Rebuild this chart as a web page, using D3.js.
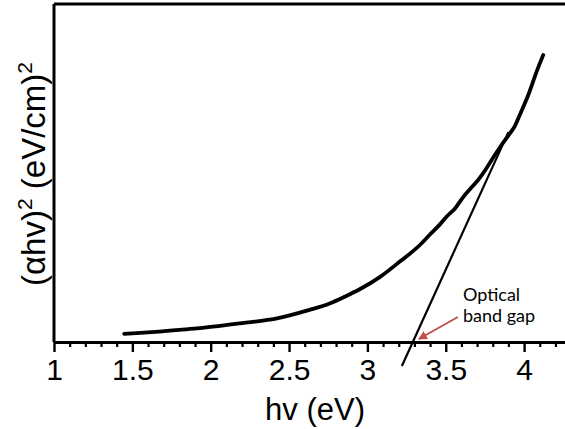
<!DOCTYPE html>
<html>
<head>
<meta charset="utf-8">
<script src="https://cdn.jsdelivr.net/npm/d3@7"></script>
<style>
  html, body { margin: 0; padding: 0; background: #fff; }
  svg { display: block; }
</style>
</head>
<body>
<svg id="chart" width="565" height="429"></svg>
<script>
// Tauc plot: (αhν)² against photon energy, with the linear fit that gives the optical band gap.
const energy = [1.448, 1.55, 1.672, 1.80, 1.928, 2.06, 2.184, 2.28, 2.376, 2.504, 2.631, 2.759, 2.855,
                2.951, 3.079, 3.207, 3.335, 3.399, 3.463, 3.508, 3.559, 3.610, 3.674, 3.706, 3.764,
                3.802, 3.847, 3.898, 3.94, 3.98, 4.026, 4.084, 4.122];
const absorption = [0.24, 0.27, 0.31, 0.36, 0.41, 0.48, 0.55, 0.60, 0.66, 0.79, 0.95, 1.14, 1.34,
                    1.56, 1.92, 2.38, 2.87, 3.18, 3.48, 3.72, 3.95, 4.28, 4.62, 4.79, 5.17,
                    5.45, 5.77, 6.10, 6.38, 6.80, 7.30, 8.05, 8.49];

// Straight-line extrapolation of the absorption edge
const fitEnergy = [3.22, 3.90];
const fitAbsorption = [-0.71, 6.21];
const bandGap = 3.29;

const majorTicks = [1, 1.5, 2, 2.5, 3, 3.5, 4];
const tickLabels = ["1", "1.5", "2", "2.5", "3", "3.5", "4"];
const minorTicks = [1.1, 1.2, 1.3, 1.4, 1.6, 1.7, 1.8, 1.9, 2.1, 2.2, 2.3, 2.4, 2.6, 2.7, 2.8, 2.9,
                    3.1, 3.2, 3.3, 3.4, 3.6, 3.7, 3.8, 3.9, 4.1, 4.2];
const noteLines = ["Optical", "band gap"];

const svg = d3.select("#chart");
const plotLeft = 54, plotRight = 565, plotTop = 4, plotBottom = 342;

const x = d3.scaleLinear().domain([1, 1 + (plotRight - plotLeft) / 156.7]).range([plotLeft, plotRight]);
const y = d3.scaleLinear().domain([0, 10]).range([plotBottom, plotTop]);

const axisFont = "'Liberation Sans', Arial, sans-serif";

// Frame: top and left edges
svg.append("line").attr("x1", plotLeft).attr("x2", plotRight).attr("y1", plotTop).attr("y2", plotTop)
  .attr("stroke", "#000").attr("stroke-width", 3);
svg.append("line").attr("x1", plotLeft).attr("x2", plotLeft).attr("y1", plotTop).attr("y2", plotBottom)
  .attr("stroke", "#000").attr("stroke-width", 3);

// Minor ticks
const minorAxis = d3.axisBottom(x).tickValues(minorTicks).tickSize(5).tickFormat("");
svg.append("g").attr("transform", `translate(0,${plotBottom})`).call(minorAxis)
  .call(g => g.select(".domain").remove())
  .call(g => g.selectAll(".tick line").attr("stroke", "#000").attr("stroke-width", 2.2));

// Major ticks with labels
const majorAxis = d3.axisBottom(x).tickValues(majorTicks).tickSizeInner(10).tickSizeOuter(0)
  .tickPadding(7).tickFormat((d, i) => tickLabels[i]);
const gx = svg.append("g").attr("transform", `translate(0,${plotBottom})`).call(majorAxis);
gx.select(".domain").attr("stroke", "#000").attr("stroke-width", 3);
gx.selectAll(".tick line").attr("stroke", "#000").attr("stroke-width", 2.4);
gx.selectAll(".tick text").attr("font-family", axisFont).attr("font-size", 30).attr("fill", "#000");

// Axis titles
svg.append("text")
  .attr("x", 315).attr("y", 420)
  .attr("text-anchor", "middle")
  .attr("font-family", axisFont).attr("font-size", 31).attr("fill", "#000")
  .text("hv (eV)");

const yt = svg.append("text")
  .attr("transform", "translate(45,174) rotate(-90)")
  .attr("text-anchor", "middle")
  .attr("font-family", axisFont).attr("font-size", 33).attr("fill", "#000");
yt.append("tspan").text("(αhv)");
yt.append("tspan").attr("dy", -13).attr("font-size", 21).text("2");
yt.append("tspan").attr("dy", 13).text(" (eV/cm)");
yt.append("tspan").attr("dy", -13).attr("font-size", 21).text("2");

// Data curve
const line = d3.line().x((d, i) => x(energy[i])).y((d, i) => y(absorption[i])).curve(d3.curveMonotoneX);
svg.append("path").datum(absorption).attr("d", line)
  .attr("fill", "none").attr("stroke", "#000").attr("stroke-width", 3.8)
  .attr("stroke-linejoin", "round").attr("stroke-linecap", "round");

// Linear fit
svg.append("line")
  .attr("x1", x(fitEnergy[0])).attr("y1", y(fitAbsorption[0]))
  .attr("x2", x(fitEnergy[1])).attr("y2", y(fitAbsorption[1]))
  .attr("stroke", "#000").attr("stroke-width", 2.2);

// Band-gap annotation
const arrowColor = "#c0504d";
svg.append("defs").append("marker")
  .attr("id", "head").attr("viewBox", "0 0 10 10").attr("refX", 9).attr("refY", 5)
  .attr("markerWidth", 4.5).attr("markerHeight", 4.5).attr("markerUnits", "strokeWidth")
  .attr("orient", "auto")
  .append("path").attr("d", "M0,0 L10,5 L0,10 Z").attr("fill", arrowColor);

const tipX = x(bandGap) + 6, tipY = y(0) - 3;
svg.append("line")
  .attr("x1", tipX + 39).attr("y1", tipY - 22)
  .attr("x2", tipX).attr("y2", tipY)
  .attr("stroke", arrowColor).attr("stroke-width", 2)
  .attr("marker-end", "url(#head)");

svg.selectAll("text.note").data(noteLines).join("text")
  .attr("class", "note")
  .attr("x", 463).attr("y", (d, i) => 301 + i * 21)
  .attr("font-family", "Lato, 'Open Sans', sans-serif").attr("font-size", 18).attr("fill", "#000")
  .text(d => d);
</script>
</body>
</html>
